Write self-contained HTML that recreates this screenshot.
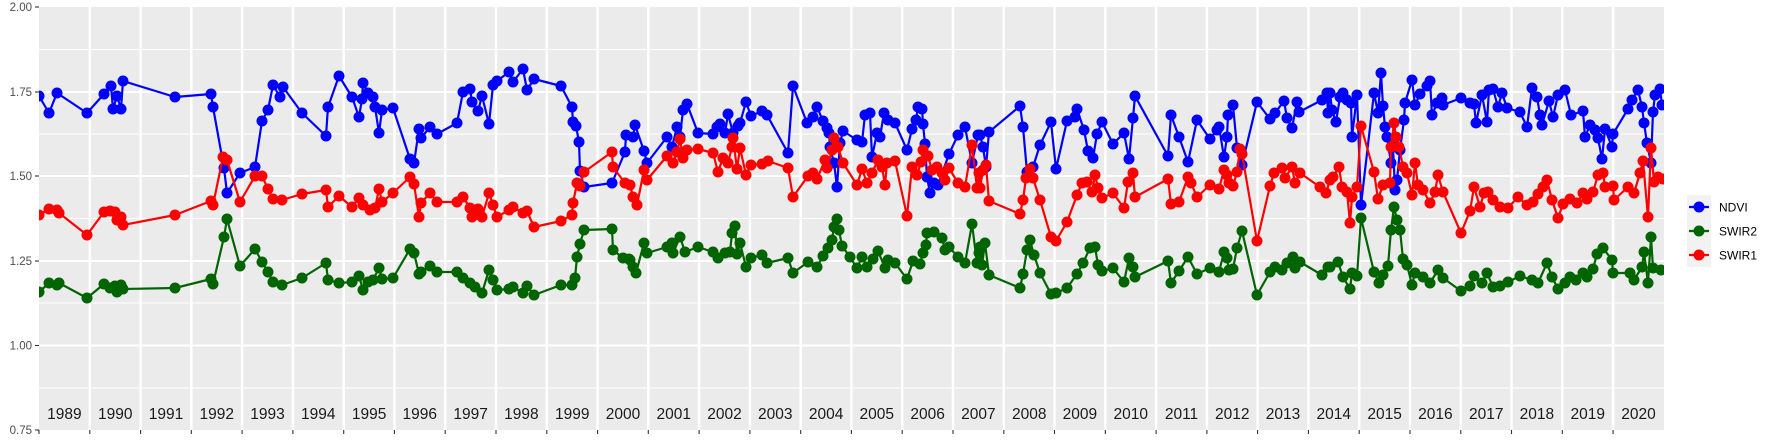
<!DOCTYPE html>
<html><head><meta charset="utf-8"><style>
html,body{margin:0;padding:0;background:#fff;}
svg{display:block;font-family:"Liberation Sans",sans-serif;}
</style></head><body>
<svg width="1773" height="442" viewBox="0 0 1773 442" xmlns="http://www.w3.org/2000/svg">
<defs>
<marker id="mb" markerUnits="userSpaceOnUse" markerWidth="12" markerHeight="12" refX="6" refY="6" overflow="visible"><circle cx="6" cy="6" r="5.5" fill="#0000ff"/></marker>
<marker id="mg" markerUnits="userSpaceOnUse" markerWidth="12" markerHeight="12" refX="6" refY="6" overflow="visible"><circle cx="6" cy="6" r="5.5" fill="#006400"/></marker>
<marker id="mr" markerUnits="userSpaceOnUse" markerWidth="12" markerHeight="12" refX="6" refY="6" overflow="visible"><circle cx="6" cy="6" r="5.5" fill="#ff0000"/></marker>
<clipPath id="cp"><rect x="39" y="7" width="1625" height="423"/></clipPath>
</defs>
<rect x="39" y="7" width="1625" height="423" fill="#ebebeb"/>
<g stroke="#fff" stroke-width="1">
<line x1="39" x2="1664" y1="49.5" y2="49.5"/><line x1="39" x2="1664" y1="134" y2="134"/><line x1="39" x2="1664" y1="218.5" y2="218.5"/><line x1="39" x2="1664" y1="303" y2="303"/><line x1="39" x2="1664" y1="388" y2="388"/>
</g>
<g stroke="#fff" stroke-width="2">
<line x1="39" x2="1664" y1="92" y2="92"/><line x1="39" x2="1664" y1="176" y2="176"/><line x1="39" x2="1664" y1="261" y2="261"/><line x1="39" x2="1664" y1="345.5" y2="345.5"/>
</g>
<g stroke="#fff" stroke-width="2.5" id="vg">
<line x1="89.8" x2="89.8" y1="7" y2="430"/><line x1="140.6" x2="140.6" y1="7" y2="430"/><line x1="191.3" x2="191.3" y1="7" y2="430"/><line x1="242.1" x2="242.1" y1="7" y2="430"/><line x1="292.9" x2="292.9" y1="7" y2="430"/><line x1="343.7" x2="343.7" y1="7" y2="430"/><line x1="394.4" x2="394.4" y1="7" y2="430"/><line x1="445.2" x2="445.2" y1="7" y2="430"/><line x1="496" x2="496" y1="7" y2="430"/><line x1="546.8" x2="546.8" y1="7" y2="430"/><line x1="597.6" x2="597.6" y1="7" y2="430"/><line x1="648.3" x2="648.3" y1="7" y2="430"/><line x1="699.1" x2="699.1" y1="7" y2="430"/><line x1="749.9" x2="749.9" y1="7" y2="430"/><line x1="800.7" x2="800.7" y1="7" y2="430"/><line x1="851.4" x2="851.4" y1="7" y2="430"/><line x1="902.2" x2="902.2" y1="7" y2="430"/><line x1="953" x2="953" y1="7" y2="430"/><line x1="1003.8" x2="1003.8" y1="7" y2="430"/><line x1="1054.5" x2="1054.5" y1="7" y2="430"/><line x1="1105.3" x2="1105.3" y1="7" y2="430"/><line x1="1156.1" x2="1156.1" y1="7" y2="430"/><line x1="1206.9" x2="1206.9" y1="7" y2="430"/><line x1="1257.6" x2="1257.6" y1="7" y2="430"/><line x1="1308.4" x2="1308.4" y1="7" y2="430"/><line x1="1359.2" x2="1359.2" y1="7" y2="430"/><line x1="1410" x2="1410" y1="7" y2="430"/><line x1="1460.8" x2="1460.8" y1="7" y2="430"/><line x1="1511.5" x2="1511.5" y1="7" y2="430"/><line x1="1562.3" x2="1562.3" y1="7" y2="430"/><line x1="1613.1" x2="1613.1" y1="7" y2="430"/>
</g>
<g clip-path="url(#cp)" fill="none" stroke-width="2.2" stroke-linejoin="round">
<polyline stroke="#0000ff" marker-start="url(#mb)" marker-mid="url(#mb)" marker-end="url(#mb)" points="39,96 49,113 57,93 87,113 104,94 111,86 113,109 117,96 121,109 123,81 175,97 211,94 213,107 224,168 227,193 240,173 255,167 262,121 268,110 273,85 280,97 283,87 302,113 326,136 328,107 339,76 352,97 359,117 362,99 363,83 368,93 373,97 375,107 379,133 382,110 393,108 410,159 414,163 419,129 421,138 430,127 437,134 457,123 463,92 470,89 472,102 478,111 482,96 489,124 493,85 497,81 509,72 513,82 523,69 527,90 534,79 561,86 572,107 573,122 576,126 579,142 580,171 584,187 612,183 625,152 626,135 633,137 635,125 644,151 647,163 667,137 672,147 677,127 680,137 683,110 687,104 698,133 713,134 717,127 720,124 725,133 728,114 733,133 738,126 740,123 746,102 751,116 762,111 767,115 788,153 793,86 807,123 813,117 817,107 823,121 827,128 829,133 830,147 834,163 837,187 840,143 843,131 857,140 862,142 865,115 870,113 872,157 877,133 880,137 884,113 888,120 895,123 907,150 912,129 916,120 918,107 922,109 923,124 925,144 927,177 930,193 934,183 938,185 949,154 958,135 965,127 972,163 978,135 980,135 983,147 986,167 989,132 1020,106 1023,127 1027,172 1033,167 1040,145 1051,122 1056,169 1067,121 1075,117 1077,109 1084,130 1088,151 1093,158 1097,134 1102,122 1113,144 1124,133 1129,159 1133,118 1135,96 1168,156 1171,115 1179,137 1188,162 1197,120 1210,139 1217,130 1219,127 1224,157 1227,137 1228,115 1233,105 1237,148 1242,165 1257,102 1270,119 1275,113 1284,101 1287,118 1292,128 1297,102 1299,112 1322,100 1327,93 1328,113 1330,93 1332,110 1336,122 1340,97 1343,93 1347,100 1351,103 1352,137 1357,95 1361,205 1374,93 1378,113 1381,73 1383,106 1385,127 1387,137 1391,163 1393,147 1395,190 1397,180 1400,150 1404,120 1405,103 1412,80 1415,105 1420,94 1427,86 1430,81 1432,115 1437,103 1442,98 1443,105 1461,98 1470,103 1474,104 1476,123 1482,95 1487,122 1489,90 1493,89 1498,107 1502,93 1507,108 1520,112 1527,127 1532,88 1537,97 1540,115 1542,125 1549,101 1553,117 1558,95 1565,90 1571,115 1583,111 1585,137 1590,125 1595,130 1598,138 1602,159 1605,129 1612,147 1613,134 1628,109 1632,100 1638,90 1642,107 1644,123 1647,143 1651,163 1653,112 1655,95 1660,89 1662,105"/>
<polyline stroke="#006400" marker-start="url(#mg)" marker-mid="url(#mg)" marker-end="url(#mg)" points="39,292 49,283 57,285 59,283 87,298 104,284 110,288 115,286 117,292 121,285 123,289 175,288 211,279 213,284 224,237 227,219 240,266 255,249 262,262 268,272 273,282 282,285 302,278 326,263 328,280 339,283 352,282 359,276 363,290 368,282 373,280 379,268 382,279 393,278 410,249 414,253 419,274 421,272 430,266 437,272 457,272 463,278 470,283 475,287 482,293 489,270 493,280 497,290 509,289 513,287 523,293 527,286 534,295 561,285 572,285 575,278 577,257 580,244 584,230 612,229 613,250 623,258 629,259 630,260 633,267 636,273 644,243 647,253 667,247 672,243 673,253 680,237 685,252 698,247 713,252 718,258 725,253 730,252 732,233 735,226 737,254 740,243 746,267 751,258 762,255 767,263 788,258 793,273 808,262 817,267 823,256 828,248 832,240 834,227 837,219 839,230 842,246 850,257 857,268 862,257 867,267 873,259 878,251 885,268 888,260 895,263 907,279 913,261 920,264 923,253 926,245 927,233 934,232 942,238 945,250 949,247 958,257 965,263 972,224 977,263 979,253 980,247 982,265 985,243 989,275 1020,288 1023,274 1027,250 1030,240 1034,255 1040,273 1051,294 1056,293 1067,288 1077,274 1083,263 1090,248 1095,247 1098,265 1102,271 1113,268 1124,282 1129,258 1133,267 1135,277 1168,261 1171,283 1179,271 1188,257 1197,274 1210,268 1219,272 1224,252 1227,258 1229,270 1233,269 1237,248 1242,231 1257,295 1270,272 1275,267 1282,270 1287,263 1293,257 1295,268 1300,262 1322,275 1328,267 1330,267 1338,262 1343,277 1350,289 1352,273 1357,276 1361,218 1374,272 1379,283 1383,275 1388,266 1391,230 1394,207 1397,220 1400,230 1403,259 1407,265 1412,285 1415,273 1423,277 1430,283 1438,270 1443,278 1461,291 1470,286 1474,276 1482,283 1487,273 1493,287 1500,286 1508,282 1520,276 1532,280 1538,283 1547,263 1552,277 1558,289 1565,283 1570,277 1576,280 1583,273 1587,277 1593,269 1597,254 1603,248 1612,260 1613,273 1630,273 1634,280 1642,267 1644,252 1648,283 1651,237 1653,268 1661,270"/>
<polyline stroke="#ff0000" marker-start="url(#mr)" marker-mid="url(#mr)" marker-end="url(#mr)" points="39,215 49,209 57,210 59,213 87,235 104,212 110,211 115,212 117,220 121,217 123,225 175,215 211,201 213,205 223,157 227,160 240,202 255,176 262,176 268,189 273,199 282,200 302,194 326,190 328,207 339,196 352,207 359,198 363,205 370,210 375,208 379,189 382,202 393,193 410,177 414,184 419,217 421,203 430,193 437,202 457,202 463,197 470,208 472,217 478,209 482,217 489,193 493,205 497,217 509,210 513,207 523,213 527,211 534,227 561,221 572,215 573,203 577,183 580,186 584,172 612,152 613,167 625,183 630,185 633,197 637,205 644,170 647,180 667,156 673,163 677,152 680,139 683,158 687,150 698,149 713,153 718,172 723,158 728,163 732,147 733,138 737,169 740,148 746,175 751,165 762,164 768,161 788,168 793,197 808,176 813,173 817,179 825,160 827,168 832,150 834,138 838,147 843,163 857,185 862,169 867,183 872,173 878,160 882,167 885,185 887,163 895,161 907,216 912,167 917,175 921,162 923,150 928,156 932,170 937,167 942,173 945,180 949,168 958,183 965,187 972,145 977,188 979,173 980,188 983,170 986,165 989,201 1020,214 1023,200 1026,178 1030,169 1033,178 1040,200 1051,237 1056,241 1067,222 1077,195 1082,183 1087,182 1092,192 1095,175 1098,188 1102,198 1113,193 1124,208 1128,182 1133,173 1135,197 1168,179 1171,204 1179,202 1188,177 1191,183 1197,197 1210,185 1219,189 1224,170 1227,175 1229,183 1233,186 1237,172 1240,149 1242,154 1257,241 1270,186 1274,173 1282,168 1285,178 1292,167 1295,183 1300,173 1320,187 1326,193 1330,180 1333,177 1339,167 1342,187 1347,192 1350,223 1352,197 1357,187 1361,126 1374,172 1378,199 1383,185 1390,183 1391,147 1394,123 1396,137 1399,147 1403,167 1407,173 1412,195 1415,163 1418,185 1423,190 1430,203 1435,192 1438,175 1443,192 1461,233 1470,211 1474,187 1480,207 1484,193 1488,192 1493,200 1500,207 1508,208 1518,197 1527,205 1533,202 1538,194 1543,187 1547,180 1552,200 1558,218 1563,204 1570,199 1577,203 1583,193 1587,199 1593,192 1598,175 1603,173 1605,187 1613,186 1614,200 1628,187 1634,193 1640,173 1643,161 1648,217 1651,148 1654,182 1658,177 1663,179"/>
</g>
<g font-size="15.5" fill="#1a1a1a" text-anchor="middle">
<text x="64.4" y="419">1989</text><text x="115.2" y="419">1990</text><text x="166" y="419">1991</text><text x="216.7" y="419">1992</text><text x="267.5" y="419">1993</text><text x="318.3" y="419">1994</text><text x="369.1" y="419">1995</text><text x="419.8" y="419">1996</text><text x="470.6" y="419">1997</text><text x="521.4" y="419">1998</text><text x="572.2" y="419">1999</text><text x="623" y="419">2000</text><text x="673.7" y="419">2001</text><text x="724.5" y="419">2002</text><text x="775.3" y="419">2003</text><text x="826.1" y="419">2004</text><text x="876.8" y="419">2005</text><text x="927.6" y="419">2006</text><text x="978.4" y="419">2007</text><text x="1029.2" y="419">2008</text><text x="1079.9" y="419">2009</text><text x="1130.7" y="419">2010</text><text x="1181.5" y="419">2011</text><text x="1232.3" y="419">2012</text><text x="1283" y="419">2013</text><text x="1333.8" y="419">2014</text><text x="1384.6" y="419">2015</text><text x="1435.4" y="419">2016</text><text x="1486.2" y="419">2017</text><text x="1536.9" y="419">2018</text><text x="1587.7" y="419">2019</text><text x="1638.5" y="419">2020</text>
</g>
<g font-size="11.5" fill="#4d4d4d" text-anchor="end">
<text x="32" y="11">2.00</text><text x="32" y="96">1.75</text><text x="32" y="180">1.50</text><text x="32" y="265">1.25</text><text x="32" y="349.5">1.00</text><text x="32" y="434">0.75</text>
</g>
<g stroke="#333" stroke-width="1.1">
<line x1="35" x2="39" y1="7" y2="7"/><line x1="35" x2="39" y1="92" y2="92"/><line x1="35" x2="39" y1="176" y2="176"/><line x1="35" x2="39" y1="261" y2="261"/><line x1="35" x2="39" y1="345.5" y2="345.5"/><line x1="35" x2="39" y1="430" y2="430"/>
<line x1="39" x2="39" y1="430" y2="434"/><line x1="89.8" x2="89.8" y1="430" y2="434"/><line x1="140.6" x2="140.6" y1="430" y2="434"/><line x1="191.3" x2="191.3" y1="430" y2="434"/><line x1="242.1" x2="242.1" y1="430" y2="434"/><line x1="292.9" x2="292.9" y1="430" y2="434"/><line x1="343.7" x2="343.7" y1="430" y2="434"/><line x1="394.4" x2="394.4" y1="430" y2="434"/><line x1="445.2" x2="445.2" y1="430" y2="434"/><line x1="496" x2="496" y1="430" y2="434"/><line x1="546.8" x2="546.8" y1="430" y2="434"/><line x1="597.6" x2="597.6" y1="430" y2="434"/><line x1="648.3" x2="648.3" y1="430" y2="434"/><line x1="699.1" x2="699.1" y1="430" y2="434"/><line x1="749.9" x2="749.9" y1="430" y2="434"/><line x1="800.7" x2="800.7" y1="430" y2="434"/><line x1="851.4" x2="851.4" y1="430" y2="434"/><line x1="902.2" x2="902.2" y1="430" y2="434"/><line x1="953" x2="953" y1="430" y2="434"/><line x1="1003.8" x2="1003.8" y1="430" y2="434"/><line x1="1054.5" x2="1054.5" y1="430" y2="434"/><line x1="1105.3" x2="1105.3" y1="430" y2="434"/><line x1="1156.1" x2="1156.1" y1="430" y2="434"/><line x1="1206.9" x2="1206.9" y1="430" y2="434"/><line x1="1257.6" x2="1257.6" y1="430" y2="434"/><line x1="1308.4" x2="1308.4" y1="430" y2="434"/><line x1="1359.2" x2="1359.2" y1="430" y2="434"/><line x1="1410" x2="1410" y1="430" y2="434"/><line x1="1460.8" x2="1460.8" y1="430" y2="434"/><line x1="1511.5" x2="1511.5" y1="430" y2="434"/><line x1="1562.3" x2="1562.3" y1="430" y2="434"/><line x1="1613.1" x2="1613.1" y1="430" y2="434"/>
</g>
<rect x="1687" y="195" width="24" height="72" fill="#f2f2f2"/>
<g stroke-width="2.2">
<line x1="1689" x2="1709" y1="207" y2="207" stroke="#0000ff"/><circle cx="1699" cy="207" r="5.5" fill="#0000ff"/>
<line x1="1689" x2="1709" y1="231" y2="231" stroke="#006400"/><circle cx="1699" cy="231" r="5.5" fill="#006400"/>
<line x1="1689" x2="1709" y1="255" y2="255" stroke="#ff0000"/><circle cx="1699" cy="255" r="5.5" fill="#ff0000"/>
</g>
<g font-size="12" fill="#000">
<text x="1719" y="211.5">NDVI</text><text x="1719" y="235.5">SWIR2</text><text x="1719" y="259.5">SWIR1</text>
</g>
</svg>
</body></html>
